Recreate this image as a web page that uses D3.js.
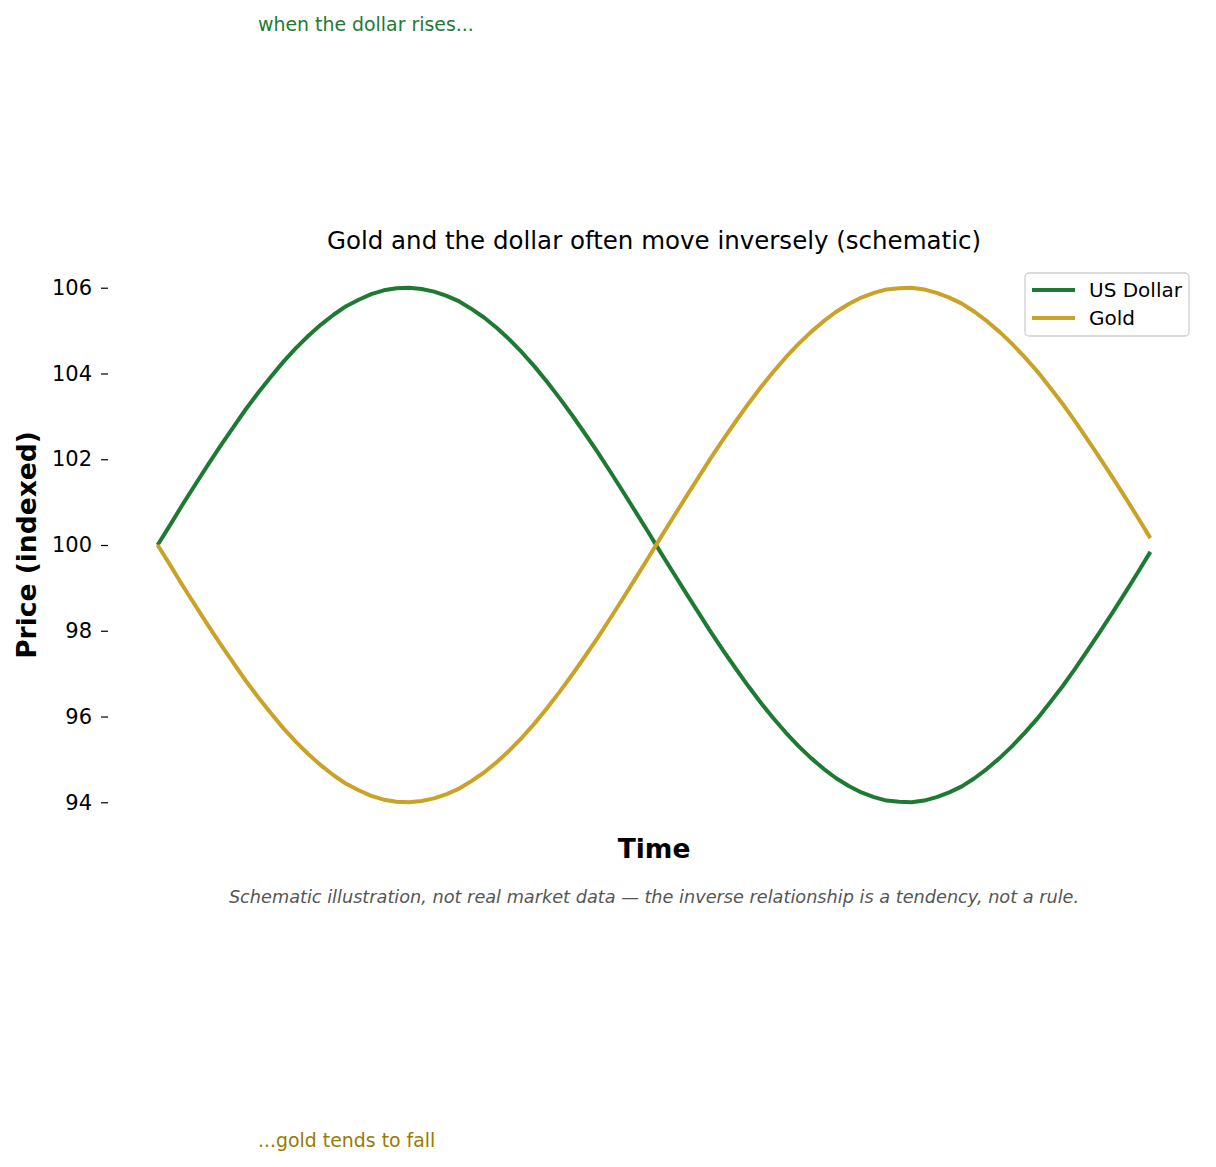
<!DOCTYPE html>
<html>
<head>
<meta charset="utf-8">
<script src="https://cdn.jsdelivr.net/npm/d3@7"></script>
<style>
  body { margin: 0; background: #fff; }
  svg text { font-family: "DejaVu Sans", sans-serif; }
</style>
</head>
<body>
<svg id="chart" width="1216" height="1167"></svg>
<script>
// schematic index values (80 samples each)
var timeSteps = d3.range(80);
var dollarValues = [
  100.00, 100.47, 100.95, 101.41, 101.87, 102.31, 102.74, 103.16, 103.55, 103.92,
  104.27, 104.59, 104.88, 105.14, 105.37, 105.57, 105.72, 105.85, 105.94, 105.99,
  106.00, 105.97, 105.91, 105.81, 105.68, 105.50, 105.30, 105.06, 104.79, 104.49,
  104.16, 103.80, 103.42, 103.02, 102.60, 102.17, 101.72, 101.26, 100.79, 100.32,
  99.84, 99.37, 98.90, 98.44, 97.98, 97.54, 97.12, 96.71, 96.32, 95.96,
  95.62, 95.31, 95.03, 94.78, 94.56, 94.38, 94.23, 94.12, 94.04, 94.01,
  94.00, 94.04, 94.12, 94.23, 94.37, 94.56, 94.78, 95.03, 95.31, 95.62,
  95.95, 96.32, 96.70, 97.11, 97.54, 97.98, 98.43, 98.89, 99.36, 99.84
];
var goldValues = [
  100.00, 99.53, 99.05, 98.59, 98.13, 97.69, 97.26, 96.84, 96.45, 96.08,
  95.73, 95.41, 95.12, 94.86, 94.63, 94.43, 94.28, 94.15, 94.06, 94.01,
  94.00, 94.03, 94.09, 94.19, 94.32, 94.50, 94.70, 94.94, 95.21, 95.51,
  95.84, 96.20, 96.58, 96.98, 97.40, 97.83, 98.28, 98.74, 99.21, 99.68,
  100.16, 100.63, 101.10, 101.56, 102.02, 102.46, 102.88, 103.29, 103.68, 104.04,
  104.38, 104.69, 104.97, 105.22, 105.44, 105.62, 105.77, 105.88, 105.96, 105.99,
  106.00, 105.96, 105.88, 105.77, 105.63, 105.44, 105.22, 104.97, 104.69, 104.38,
  104.05, 103.68, 103.30, 102.89, 102.46, 102.02, 101.57, 101.11, 100.64, 100.16
];
var seriesNames = ['US Dollar', 'Gold'];
var seriesColors = ['#1e7a32', '#c9a227'];
var yTicks = [94, 96, 98, 100, 102, 104, 106];

var margin = { top: 262, right: 16, bottom: 339, left: 108 };
var width = 1216 - margin.left - margin.right;
var height = 1167 - margin.top - margin.bottom;

var svg = d3.select('#chart');
var g = svg.append('g').attr('transform', 'translate(' + margin.left + ',' + margin.top + ')');

// matplotlib-ish 5% padding on both axes
var xPad = (timeSteps.length - 1) * 0.05;
var x = d3.scaleLinear()
    .domain([-xPad, timeSteps.length - 1 + xPad])
    .range([0, width]);
var y = d3.scaleLinear()
    .domain([93.4, 106.6])
    .range([height, 0]);

var yAxis = g.append('g')
    .call(d3.axisLeft(y).tickValues(yTicks).tickSize(7).tickPadding(9).tickFormat(d3.format('d')));
yAxis.select('.domain').remove();
yAxis.selectAll('.tick line').attr('stroke', '#000').attr('stroke-width', 1.2);
yAxis.selectAll('.tick text').attr('fill', '#000').style('font-size', '21px');

var line = d3.line()
    .x(function (d, i) { return x(timeSteps[i]); })
    .y(function (d) { return y(d); });

[dollarValues, goldValues].forEach(function (vals, k) {
    g.append('path')
        .datum(vals)
        .attr('fill', 'none')
        .attr('stroke', seriesColors[k])
        .attr('stroke-width', 4)
        .attr('stroke-linejoin', 'round')
        .attr('d', line);
});

// title and axis labels
g.append('text')
    .attr('x', width / 2).attr('y', -13)
    .attr('text-anchor', 'middle')
    .style('font-size', '24.5px')
    .text('Gold and the dollar often move inversely (schematic)');

g.append('text')
    .attr('x', width / 2).attr('y', height + 30)
    .attr('text-anchor', 'middle')
    .style('font-size', '26.5px').style('font-weight', 'bold')
    .text('Time');

svg.append('text')
    .attr('transform', 'translate(36,' + (margin.top + y(100)) + ') rotate(-90)')
    .attr('text-anchor', 'middle')
    .style('font-size', '26.5px').style('font-weight', 'bold')
    .text('Price (indexed)');

g.append('text')
    .attr('x', width / 2).attr('y', height + 75)
    .attr('text-anchor', 'middle')
    .attr('fill', '#555')
    .style('font-size', '17.7px').style('font-style', 'italic')
    .text('Schematic illustration, not real market data \u2014 the inverse relationship is a tendency, not a rule.');

// side notes
svg.append('text')
    .attr('x', 258).attr('y', 31)
    .attr('fill', '#1e7a32')
    .style('font-size', '18.9px')
    .text('when the dollar rises...');
svg.append('text')
    .attr('x', 258).attr('y', 1147)
    .attr('fill', '#9a7a00')
    .style('font-size', '18.9px')
    .text('...gold tends to fall');

// legend
var legend = svg.append('g').attr('transform', 'translate(1025,273)');
legend.append('rect')
    .attr('width', 164).attr('height', 63)
    .attr('rx', 4)
    .attr('fill', '#fff').attr('fill-opacity', 0.8)
    .attr('stroke', '#d0d0d0').attr('stroke-width', 1.3);
seriesNames.forEach(function (name, k) {
    var row = legend.append('g').attr('transform', 'translate(0,' + (17 + k * 28) + ')');
    row.append('line')
        .attr('x1', 7).attr('x2', 50)
        .attr('stroke', seriesColors[k]).attr('stroke-width', 4);
    row.append('text')
        .attr('x', 64).attr('y', 7)
        .style('font-size', '20px')
        .text(name);
});
</script>
</body>
</html>
